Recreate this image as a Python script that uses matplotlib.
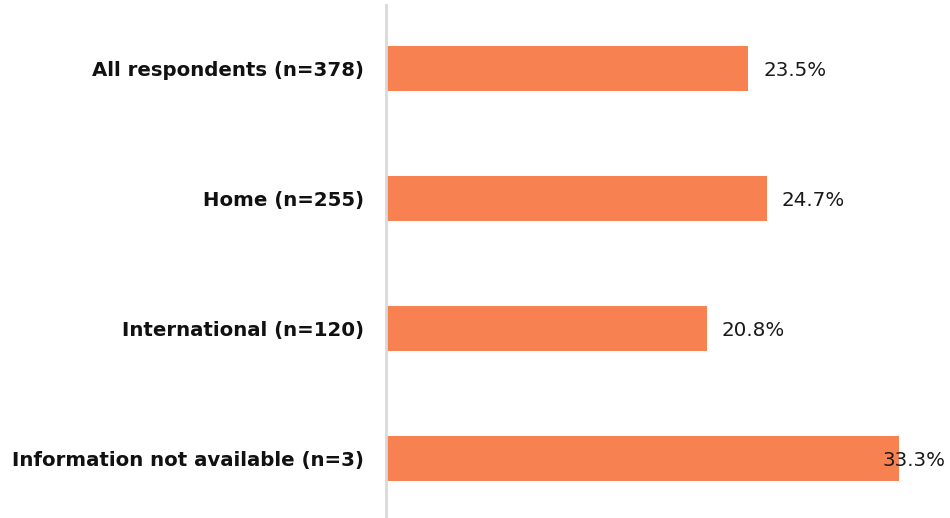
import matplotlib
matplotlib.use('Agg')
import matplotlib.pyplot as plt

categories = ['All respondents (n=378)', 'Home (n=255)', 'International (n=120)',
              'Information not available (n=3)']
values = [23.5, 24.7, 20.8, 33.3]
value_labels = ['23.5%', '24.7%', '20.8%', '33.3%']

plt.rcParams['font.family'] = ['DejaVu Sans']

fig = plt.figure(figsize=(9.5, 5.18), dpi=100)
ax = fig.add_axes([0.4063, 0.0, 0.5937, 0.9903])

ypos = list(range(len(categories)))
ax.barh(ypos, values, height=0.35, color='#F78150')

xmax = 36.6
for y, v, lab in zip(ypos, values, value_labels):
    if v > 32:
        # not enough room on the right: pin to the edge, overlapping the bar
        ax.annotate(lab, (1.0, y), xycoords=('axes fraction', 'data'),
                    xytext=(-3, -1.5), textcoords='offset points',
                    va='center', ha='right', fontsize=14.3, color='#1a1a1a')
    else:
        ax.annotate(lab, (v, y), xytext=(11, -1.5), textcoords='offset points',
                    va='center', ha='left', fontsize=14.3, color='#1a1a1a')

ax.set_xlim(0, xmax)
ax.set_ylim(3.46, -0.49)
ax.set_yticks(ypos)
ax.set_yticklabels(categories, fontsize=14.2, fontweight='bold', color='#111111')
ax.tick_params(axis='y', length=0, pad=16)
ax.set_xticks([])
for s in ['top', 'right', 'bottom']:
    ax.spines[s].set_visible(False)
ax.spines['left'].set_color('#D9D9D9')
ax.spines['left'].set_linewidth(2)

plt.savefig('out.png', dpi=100)
